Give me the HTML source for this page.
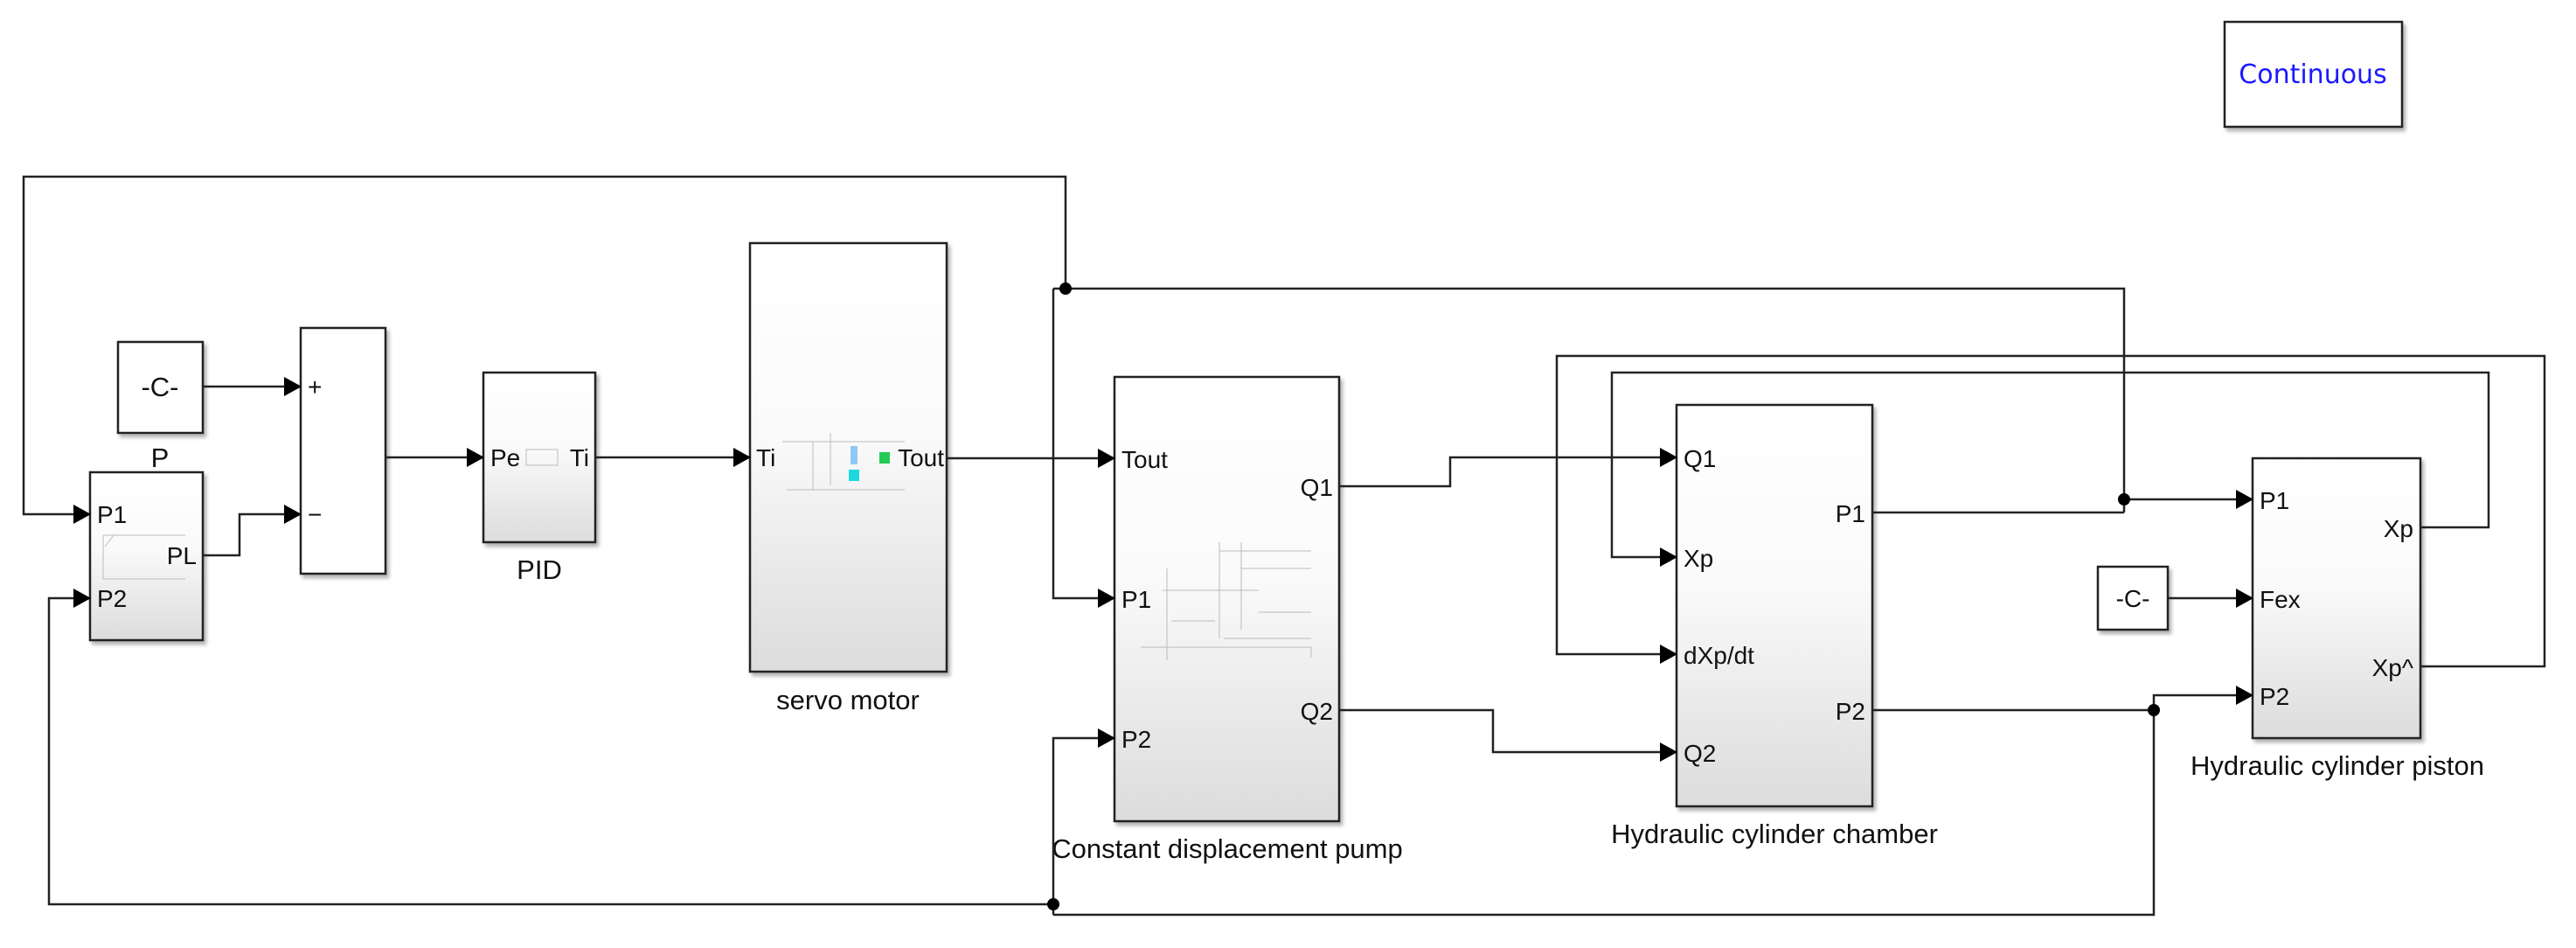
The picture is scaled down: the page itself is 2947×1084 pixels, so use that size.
<!DOCTYPE html>
<html><head><meta charset="utf-8"><style>
html,body{margin:0;padding:0;background:#fff;}
svg{display:block;font-family:"Liberation Sans",Arial,sans-serif;}
.l{stroke:#222;stroke-width:2.5;fill:none;}
.t{font-size:28px;fill:#111;}
.b{font-size:31px;fill:#111;}
.g{stroke:#bbb;stroke-width:1;fill:none;}
</style></head><body>
<svg width="2947" height="1084" viewBox="0 0 2947 1084" xmlns="http://www.w3.org/2000/svg">
<defs>
<linearGradient id="gr" x1="0" y1="0" x2="0" y2="1"><stop offset="0" stop-color="#fff"/><stop offset="0.45" stop-color="#fafafa"/><stop offset="1" stop-color="#dcdcdc"/></linearGradient>
<marker id="a" markerWidth="20" markerHeight="22" refX="19" refY="11" orient="auto" markerUnits="userSpaceOnUse"><path d="M0,0 L20,11 L0,22 Z" fill="#000"/></marker>
<filter id="sh" x="-5%" y="-5%" width="115%" height="115%"><feDropShadow dx="3" dy="4" stdDeviation="2" flood-color="#000" flood-opacity="0.3"/></filter>
</defs>

<rect x="2545" y="25" width="203" height="120" fill="#fff" stroke="#222" stroke-width="2.5" filter="url(#sh)"/>
<text x="2646" y="95" text-anchor="middle" font-family="DejaVu Sans, sans-serif" font-size="30" fill="#1a1aff">Continuous</text>

<rect x="135" y="391" width="97" height="104" fill="#fff" stroke="#222" stroke-width="2.5" filter="url(#sh)"/>
<text x="183" y="453" class="b" text-anchor="middle">-C-</text>
<text x="183" y="534" class="b" text-anchor="middle">P</text>

<rect x="344" y="375" width="97" height="281" fill="#fff" stroke="#222" stroke-width="2.5" filter="url(#sh)"/>
<text x="352" y="452" class="t">+</text>
<text x="352" y="598" class="t">−</text>

<rect x="103" y="540" width="129" height="192" fill="url(#gr)" stroke="#222" stroke-width="2.5" filter="url(#sh)"/>
<text x="111" y="598" class="t">P1</text>
<text x="111" y="694" class="t">P2</text>
<text x="225" y="645" class="t" text-anchor="end">PL</text>
<path class="g" d="M118,612 H212 M118,662 H212 M120,625 L130,612 M118,612 V662"/>

<rect x="553" y="426" width="128" height="194" fill="url(#gr)" stroke="#222" stroke-width="2.5" filter="url(#sh)"/>
<text x="561" y="533" class="t">Pe</text>
<text x="674" y="533" class="t" text-anchor="end">Ti</text>
<path class="g" d="M602,514 H638 V532 H602 Z"/>
<text x="617" y="662" class="b" text-anchor="middle">PID</text>

<rect x="858" y="278" width="225" height="490" fill="url(#gr)" stroke="#222" stroke-width="2.5" filter="url(#sh)"/>
<text x="865" y="533" class="t">Ti</text>
<text x="1080" y="533" class="t" text-anchor="end">Tout</text>
<path class="g" d="M895,505 H1035 M900,560 H1035 M930,505 V560 M950,495 V555"/>
<rect x="973" y="510" width="8" height="21" fill="#8ec9f5"/>
<rect x="971" y="537" width="12" height="13" fill="#1ed8e0"/>
<rect x="1006" y="517" width="12" height="13" fill="#22cc55"/>
<text x="970" y="811" class="b" text-anchor="middle">servo motor</text>

<rect x="1275" y="431" width="257" height="508" fill="url(#gr)" stroke="#222" stroke-width="2.5" filter="url(#sh)"/>
<text x="1283" y="535" class="t">Tout</text>
<text x="1283" y="695" class="t">P1</text>
<text x="1283" y="855" class="t">P2</text>
<text x="1525" y="567" class="t" text-anchor="end">Q1</text>
<text x="1525" y="823" class="t" text-anchor="end">Q2</text>
<path class="g" d="M1305,740 H1500 V752 M1335,650 V755 M1330,675 H1440 M1395,620 V730 M1395,630 H1500 M1420,650 H1500 M1420,620 V720 M1440,700 H1500 M1400,730 H1500 M1340,710 H1390"/>
<text x="1404" y="981" class="b" text-anchor="middle">Constant displacement pump</text>

<rect x="1918" y="463" width="224" height="459" fill="url(#gr)" stroke="#222" stroke-width="2.5" filter="url(#sh)"/>
<text x="1926" y="534" class="t">Q1</text>
<text x="1926" y="648" class="t">Xp</text>
<text x="1926" y="759" class="t">dXp/dt</text>
<text x="1926" y="871" class="t">Q2</text>
<text x="2134" y="597" class="t" text-anchor="end">P1</text>
<text x="2134" y="823" class="t" text-anchor="end">P2</text>
<text x="2030" y="964" class="b" text-anchor="middle">Hydraulic cylinder chamber</text>

<rect x="2577" y="524" width="192" height="320" fill="url(#gr)" stroke="#222" stroke-width="2.5" filter="url(#sh)"/>
<text x="2585" y="582" class="t">P1</text>
<text x="2585" y="695" class="t">Fex</text>
<text x="2585" y="806" class="t">P2</text>
<text x="2761" y="614" class="t" text-anchor="end">Xp</text>
<text x="2761" y="773" class="t" text-anchor="end">Xp^</text>
<text x="2674" y="886" class="b" text-anchor="middle">Hydraulic cylinder piston</text>

<rect x="2400" y="648" width="80" height="72" fill="#fff" stroke="#222" stroke-width="2.5" filter="url(#sh)"/>
<text x="2440" y="694" class="t" text-anchor="middle">-C-</text>

<path class="l" marker-end="url(#a)" d="M232,442 H344"/>
<path class="l" marker-end="url(#a)" d="M232,635 H274 V588 H344"/>
<path class="l" marker-end="url(#a)" d="M441,523 H553"/>
<path class="l" marker-end="url(#a)" d="M681,523 H858"/>
<path class="l" marker-end="url(#a)" d="M1083,524 H1275"/>
<path class="l" marker-end="url(#a)" d="M1219,330 V202 H27 V588 H103"/>
<path class="l" marker-end="url(#a)" d="M1205,1034 H56 V684 H103"/>
<path class="l" d="M2430,586 V330 H1205"/>
<path class="l" marker-end="url(#a)" d="M1205,330 V684 H1275"/>
<path class="l" marker-end="url(#a)" d="M1205,1046 V844 H1275"/>
<path class="l" d="M1205,1046 H2464 V812"/>
<path class="l" marker-end="url(#a)" d="M1532,556 H1659 V523 H1918"/>
<path class="l" marker-end="url(#a)" d="M1532,812 H1708 V860 H1918"/>
<path class="l" marker-end="url(#a)" d="M2769,762 H2911 V407 H1781 V748 H1918"/>
<path class="l" marker-end="url(#a)" d="M2769,603 H2847 V426 H1844 V637 H1918"/>
<path class="l" d="M2142,586 H2430"/>
<path class="l" marker-end="url(#a)" d="M2430,571 H2577"/>
<path class="l" d="M2142,812 H2464"/>
<path class="l" marker-end="url(#a)" d="M2464,812 V795 H2577"/>
<path class="l" marker-end="url(#a)" d="M2480,684 H2577"/>
<circle cx="1219" cy="330" r="7" fill="#000"/>
<circle cx="1205" cy="1034" r="7" fill="#000"/>
<circle cx="2430" cy="571" r="7" fill="#000"/>
<circle cx="2464" cy="812" r="7" fill="#000"/>
</svg>
</body></html>
